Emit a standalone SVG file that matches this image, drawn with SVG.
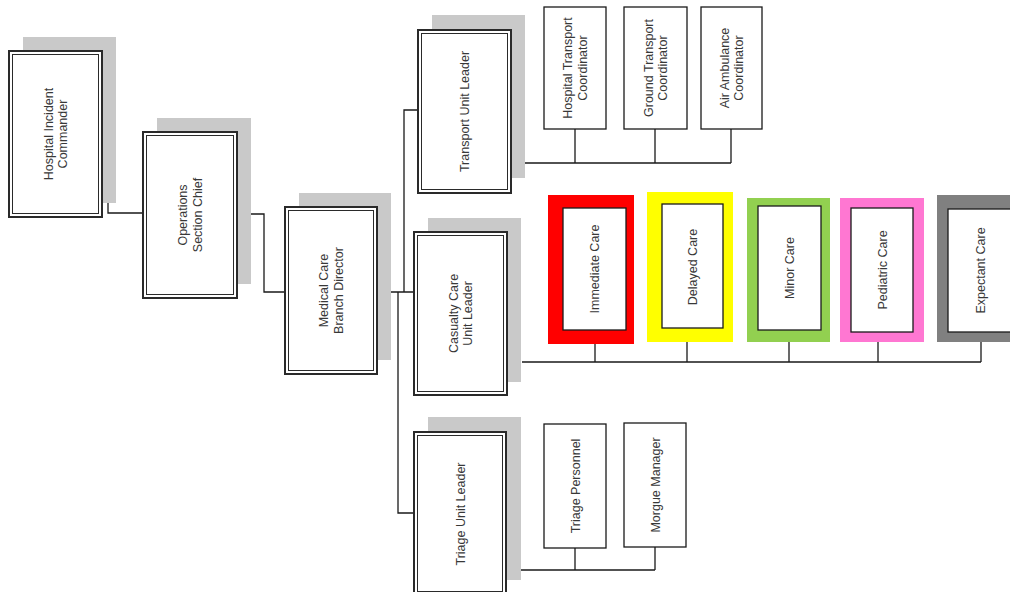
<svg xmlns="http://www.w3.org/2000/svg" width="1010" height="592" viewBox="0 0 1010 592">
<style>
.bg{fill:#ffffff}
.sh{fill:#c9c9c9}
.ob{fill:#ffffff;stroke:#2a2a2a;stroke-width:2}
.ib{fill:none;stroke:#2a2a2a;stroke-width:1}
.sb{fill:#ffffff;stroke:#1a1a1a;stroke-width:1.3}
.cn{fill:none;stroke:#1a1a1a;stroke-width:1.3}
.t{font-family:"Liberation Sans",Arial,sans-serif;font-size:12.5px;fill:#383838;text-anchor:middle}
</style>
<rect class="bg" x="0" y="0" width="1010" height="592"/>

<g id="connectors">
<path class="cn" d="M102,133 H108 V213 H143"/>
<path class="cn" d="M237,214 H264 V292 H285"/>
<path class="cn" d="M377,292 H414"/>
<path class="cn" d="M404,292 V110 H418"/>
<path class="cn" d="M398,292 V513 H414"/>
<path class="cn" d="M511,163 H731 M575,163 V129 M655,163 V129 M731,163 V129"/>
<path class="cn" d="M522,362 H981 M595,362 V344 M687,362 V342 M789,362 V342 M878,362 V342 M981,362 V342"/>
<path class="cn" d="M506,570 H655 M575,570 V548 M655,570 V547"/>
</g>

<g id="hospital-incident-commander">
<rect class="sh" x="23" y="37" width="93" height="166"/>
<rect class="ob" x="9" y="51" width="93" height="166"/>
<rect class="ib" x="12.5" y="54.5" width="86" height="159"/>
<text class="t" transform="translate(55.5,134) rotate(-90)"><tspan x="0" y="-2.6">Hospital Incident</tspan><tspan x="0" y="11.6">Commander</tspan></text>
</g>

<g id="operations-section-chief">
<rect class="sh" x="157" y="118" width="94" height="166"/>
<rect class="ob" x="143" y="132" width="94" height="166"/>
<rect class="ib" x="146.5" y="135.5" width="87" height="159"/>
<text class="t" transform="translate(190,215) rotate(-90)"><tspan x="0" y="-2.6">Operations</tspan><tspan x="0" y="11.6">Section Chief</tspan></text>
</g>

<g id="medical-care-branch-director">
<rect class="sh" x="299" y="193" width="92" height="167"/>
<rect class="ob" x="285" y="207" width="92" height="167"/>
<rect class="ib" x="288.5" y="210.5" width="85" height="160"/>
<text class="t" transform="translate(331,290.5) rotate(-90)"><tspan x="0" y="-2.6">Medical Care</tspan><tspan x="0" y="11.6">Branch Director</tspan></text>
</g>

<g id="transport-unit-leader">
<rect class="sh" x="432" y="15" width="93" height="163"/>
<rect class="ob" x="418" y="30" width="93" height="163"/>
<rect class="ib" x="421.5" y="33.5" width="86" height="156"/>
<text class="t" transform="translate(464.5,111.5) rotate(-90)"><tspan x="0" y="4.5">Transport Unit Leader</tspan></text>
</g>

<g id="casualty-care-unit-leader">
<rect class="sh" x="428" y="218" width="93" height="164"/>
<rect class="ob" x="414" y="232" width="93" height="163"/>
<rect class="ib" x="417.5" y="235.5" width="86" height="156"/>
<text class="t" transform="translate(460.5,313.5) rotate(-90)"><tspan x="0" y="-2.6">Casualty Care</tspan><tspan x="0" y="11.6">Unit Leader</tspan></text>
</g>

<g id="triage-unit-leader">
<rect class="sh" x="428" y="417" width="93" height="163"/>
<rect class="ob" x="414" y="432" width="92" height="163"/>
<rect class="ib" x="417.5" y="435.5" width="85" height="156"/>
<text class="t" transform="translate(460,514) rotate(-90)"><tspan x="0" y="4.5">Triage Unit Leader</tspan></text>
</g>

<g id="hospital-transport-coordinator">
<rect class="sb" x="544" y="7" width="62" height="122"/>
<text class="t" transform="translate(575,68) rotate(-90)"><tspan x="0" y="-2.6">Hospital Transport</tspan><tspan x="0" y="11.6">Coordinator</tspan></text>
</g>

<g id="ground-transport-coordinator">
<rect class="sb" x="624" y="7" width="63" height="122"/>
<text class="t" transform="translate(655.5,68) rotate(-90)"><tspan x="0" y="-2.6">Ground Transport</tspan><tspan x="0" y="11.6">Coordinator</tspan></text>
</g>

<g id="air-ambulance-coordinator">
<rect class="sb" x="701" y="7" width="61" height="122"/>
<text class="t" transform="translate(731.5,68) rotate(-90)"><tspan x="0" y="-2.6">Air Ambulance</tspan><tspan x="0" y="11.6">Coordinator</tspan></text>
</g>

<g id="triage-personnel">
<rect class="sb" x="544" y="424" width="62" height="124"/>
<text class="t" transform="translate(575,486) rotate(-90)"><tspan x="0" y="4.5">Triage Personnel</tspan></text>
</g>

<g id="morgue-manager">
<rect class="sb" x="624" y="423" width="62" height="124"/>
<text class="t" transform="translate(655,485) rotate(-90)"><tspan x="0" y="4.5">Morgue Manager</tspan></text>
</g>

<g id="immediate-care">
<rect fill="#ff0000" x="548" y="195" width="86" height="149"/>
<rect class="sb" x="563" y="208" width="63" height="122"/>
<text class="t" transform="translate(594.5,269) rotate(-90)"><tspan x="0" y="4.5">Immediate Care</tspan></text>
</g>

<g id="delayed-care">
<rect fill="#ffff00" x="647" y="192" width="86" height="150"/>
<rect class="sb" x="662" y="204" width="61" height="124"/>
<text class="t" transform="translate(692,267) rotate(-90)"><tspan x="0" y="4.5">Delayed Care</tspan></text>
</g>

<g id="minor-care">
<rect fill="#92d050" x="747" y="198" width="83" height="144"/>
<rect class="sb" x="758" y="206" width="63" height="124"/>
<text class="t" transform="translate(789.5,268) rotate(-90)"><tspan x="0" y="4.5">Minor Care</tspan></text>
</g>

<g id="pediatric-care">
<rect fill="#ff77d2" x="840" y="198" width="84" height="144"/>
<rect class="sb" x="851" y="208" width="62" height="124"/>
<text class="t" transform="translate(882,270) rotate(-90)"><tspan x="0" y="4.5">Pediatric Care</tspan></text>
</g>

<g id="expectant-care">
<rect fill="#808080" x="937" y="195" width="85" height="147"/>
<rect class="sb" x="948" y="209" width="66" height="123"/>
<text class="t" transform="translate(980,270.5) rotate(-90)"><tspan x="0" y="4.5">Expectant Care</tspan></text>
</g>
</svg>
